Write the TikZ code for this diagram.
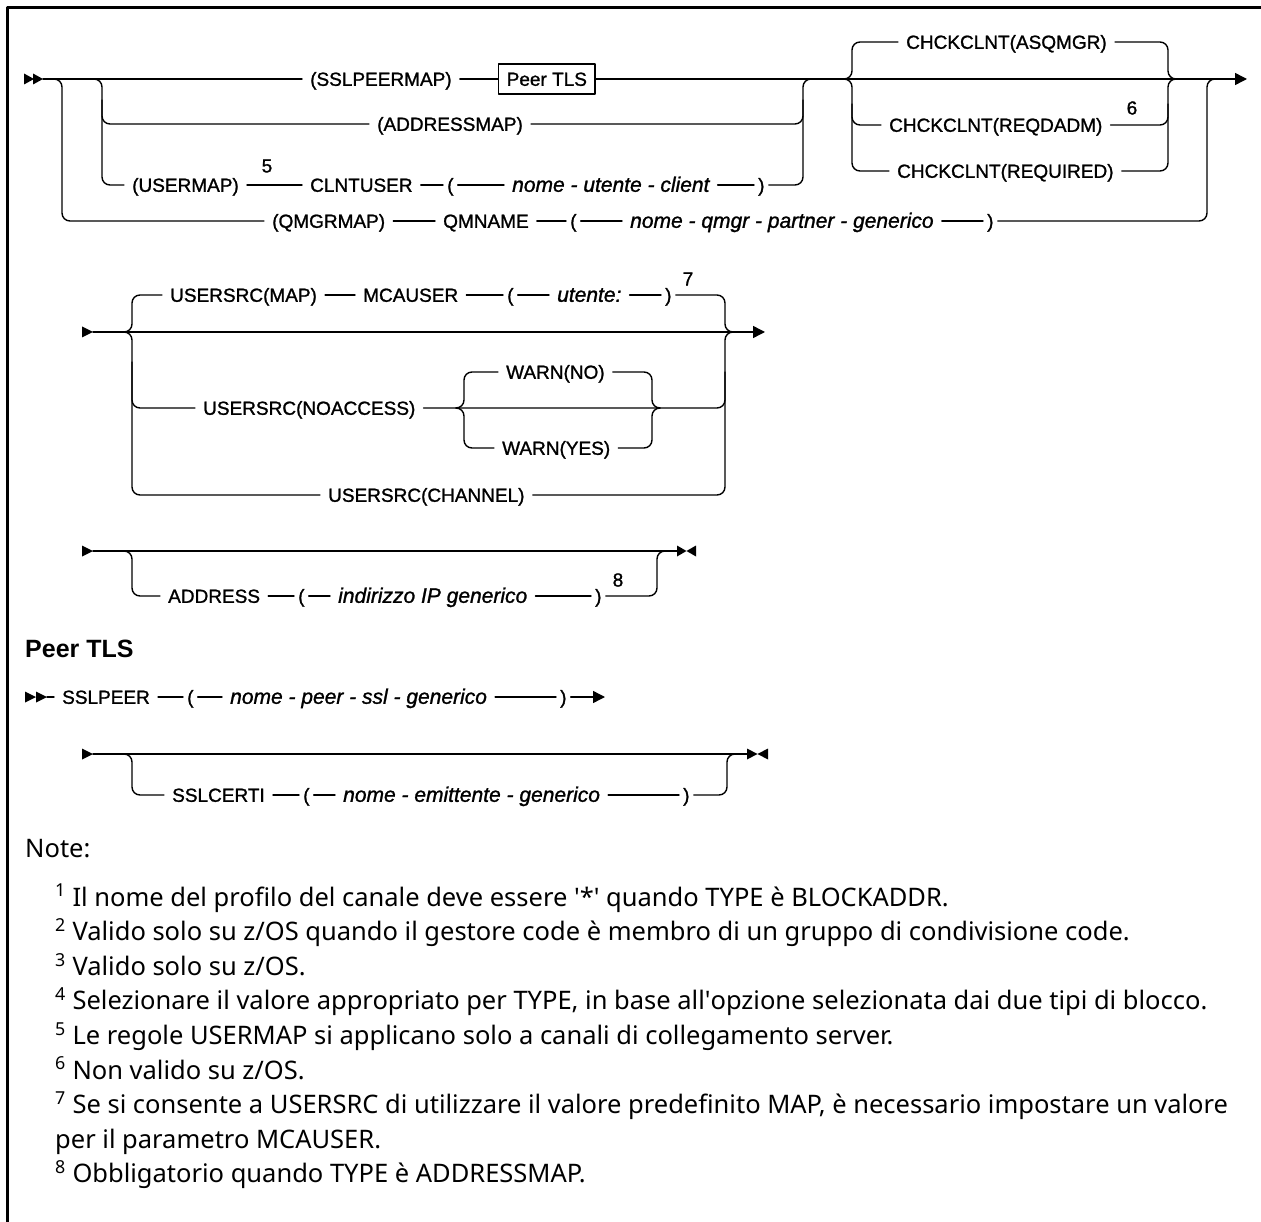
\documentclass[tikz,border=0pt]{standalone}
\usepackage{fontspec}
\usetikzlibrary{arrows.meta}
\newfontfamily\railfont{Liberation Sans}[FakeBold=1.2]
\newfontfamily\headfont{Liberation Sans}
\newfontfamily\notefont{Noto Sans}

\begin{document}
\begin{tikzpicture}[x=1pt,y=-1pt,line cap=round,line join=round,
  rail/.style={line width=1.4pt,rounded corners=8pt},
  railend/.style={-{Triangle[length=12pt,width=12pt]}},
  kw/.style={font=\railfont\fontsize{19}{22}\selectfont,anchor=west,inner xsep=8pt,inner ysep=0pt,text height=16.8pt,text depth=3.2pt},
  var/.style={kw,font=\railfont\fontsize{21}{24}\selectfont\itshape},
  paren/.style={kw,inner xsep=4pt},
  fnum/.style={font=\railfont\fontsize{19}{22}\selectfont,inner sep=0pt},
  note/.style={font=\notefont\fontsize{25.5}{30}\selectfont,anchor=base west,inner sep=0pt}]
  \useasboundingbox (0,0) rectangle (1261,1222);
  % Frame (top and left edges only)
  \draw[line width=2.6pt,line cap=butt] (7.5,1222) -- (7.5,7.5) -- (1261,7.5);

  % Part 1: map type, CHCKCLNT
  \fill (24,73.5) -- (34,79) -- (24,84.5) -- cycle;
  \fill (33,73.5) -- (43,79) -- (33,84.5) -- cycle;
  \coordinate (m1s) at (43,79);
  \coordinate (m1e) at (1247,79);
  \coordinate (q1) at (53,79);
  \coordinate (g1) at (92,79);
  \coordinate (g2) at (813,79);
  \coordinate (c1) at (843,79);
  \coordinate (c2) at (1177,79);
  \coordinate (q2) at (1215,79);

  \node[kw] (sslmap) at (302,79) {(SSLPEERMAP)};
  \node[kw,draw,line width=1.4pt,minimum height=30pt] (peerref) at (498,79) {Peer TLS};
  \node[kw] (addrmap) at (369,124) {(ADDRESSMAP)};
  \node[kw] (usermap) at (124,185) {(USERMAP)};
  \node[fnum] (fn5) at (267,166) {5};
  \node[kw] (clntuser) at (302,185) {CLNTUSER};
  \node[paren] (clpar) at (443,185) {(};
  \node[var] (clname) at (504,185) {nome - utente - client};
  \node[paren] (crpar) at (754,185) {)};
  \node[kw] (qmgrmap) at (264,221) {(QMGRMAP)};
  \node[kw] (qmname) at (435,221) {QMNAME};
  \node[paren] (qlpar) at (566,221) {(};
  \node[var] (qname) at (622,221) {nome - qmgr - partner - generico};
  \node[paren] (qrpar) at (983,221) {)};
  \node[kw] (asqmgr) at (898,42) {CHCKCLNT(ASQMGR)};
  \node[kw] (reqdadm) at (881,125) {CHCKCLNT(REQDADM)};
  \node[fnum] (fn6) at (1132,108) {6};
  \node[kw] (required) at (889,171) {CHCKCLNT(REQUIRED)};

  \draw[rail] (m1s) -- (sslmap.west);
  \draw[rail] (sslmap.east) -- (peerref.west);
  \draw[rail,railend] (peerref.east) -- (m1e);
  \draw[rail] (g1) -- ++(10,0) |- (usermap.west);
  \draw[rail] ([shift={(10,21)}]g1) |- (addrmap.west);
  \draw[rail] (usermap.east) -- (clntuser.west);
  \draw[rail] (clntuser.east) -- (clpar.west);
  \draw[rail] (clpar.east) -- (clname.west);
  \draw[rail] (clname.east) -- (crpar.west);
  \draw[rail] (crpar.east) -| ([xshift=-10pt]g2) -- (g2);
  \draw[rail] (addrmap.east) -| ([shift={(-10,21)}]g2);
  \draw[rail] (q1) -- ++(9,0) |- (qmgrmap.west);
  \draw[rail] (qmgrmap.east) -- (qmname.west);
  \draw[rail] (qmname.east) -- (qlpar.west);
  \draw[rail] (qlpar.east) -- (qname.west);
  \draw[rail] (qname.east) -- (qrpar.west);
  \draw[rail] (qrpar.east) -| ([xshift=-8pt]q2) -- (q2);
  \draw[rail] (c1) -- ++(9,0) |- (asqmgr.west);
  \draw[rail] (c1) -- ++(9,0) |- (required.west);
  \draw[rail] ([shift={(9,25)}]c1) |- (reqdadm.west);
  \draw[rail] (asqmgr.east) -| ([xshift=-9pt]c2) -- (c2);
  \draw[rail] (required.east) -| ([xshift=-9pt]c2) -- (c2);
  \draw[rail] (reqdadm.east) -| ([shift={(-9,25)}]c2);

  % Part 2: USERSRC
  \fill (82,326.5) -- (93,332) -- (82,337.5) -- cycle;
  \coordinate (m2s) at (93,332);
  \coordinate (m2e) at (765,332);
  \coordinate (s1) at (124,332);
  \coordinate (s2) at (733,332);
  \coordinate (w1) at (456,408);
  \coordinate (w2) at (660,408);

  \node[kw] (srcmap) at (162,295) {USERSRC(MAP)};
  \node[kw] (mcauser) at (355,295) {MCAUSER};
  \node[paren] (mlpar) at (503,295) {(};
  \node[var] (mname) at (549,295) {utente:};
  \node[paren] (mrpar) at (661,295) {)};
  \node[fnum] (fn7) at (688,279) {7};
  \node[kw] (srcnoacc) at (195,408) {USERSRC(NOACCESS)};
  \node[kw] (warnno) at (498,372) {WARN(NO)};
  \node[kw] (warnyes) at (494,448) {WARN(YES)};
  \node[kw] (srcchan) at (320,495) {USERSRC(CHANNEL)};

  \draw[rail,railend] (m2s) -- (m2e);
  \draw[rail] (s1) -- ++(8,0) |- (srcmap.west);
  \draw[rail] (s1) -- ++(8,0) |- (srcchan.west);
  \draw[rail] ([shift={(8,30)}]s1) |- (srcnoacc.west);
  \draw[rail] (srcmap.east) -- (mcauser.west);
  \draw[rail] (mcauser.east) -- (mlpar.west);
  \draw[rail] (mlpar.east) -- (mname.west);
  \draw[rail] (mname.east) -- (mrpar.west);
  \draw[rail] (mrpar.east) -| ([xshift=-8pt]s2) -- (s2);
  \draw[rail] (srcchan.east) -| ([xshift=-8pt]s2) -- (s2);
  \draw[rail] (srcnoacc.east) -- (w2) -| ([shift={(-8,40)}]s2);
  \draw[rail] (w1) -- ++(8,0) |- (warnno.west);
  \draw[rail] (w1) -- ++(8,0) |- (warnyes.west);
  \draw[rail] (warnno.east) -| ([xshift=-8pt]w2) -- (w2);
  \draw[rail] (warnyes.east) -| ([xshift=-8pt]w2) -- (w2);

  % Part 3: ADDRESS
  \fill (82,545.5) -- (93,551) -- (82,556.5) -- cycle;
  \coordinate (m3s) at (93,551);
  \coordinate (m3e) at (677,551);
  \coordinate (d1) at (124,551);
  \coordinate (d2) at (667,551);

  \node[kw] (address) at (160,596) {ADDRESS};
  \node[paren] (alpar) at (294,596) {(};
  \node[var] (aname) at (330,596) {indirizzo IP generico};
  \node[paren] (arpar) at (591,596) {)};
  \node[fnum] (fn8) at (618,580) {8};

  \draw[rail] (m3s) -- (m3e);
  \draw[rail] (d1) -- ++(8,0) |- (address.west);
  \draw[rail] (address.east) -- (alpar.west);
  \draw[rail] (alpar.east) -- (aname.west);
  \draw[rail] (aname.east) -- (arpar.west);
  \draw[rail] (arpar.east) -| ([xshift=-10pt]d2) -- (d2);
  \fill (677,545.5) -- (686.5,551) -- (677,556.5) -- cycle;
  \fill (696,545.5) -- (686.5,551) -- (696,556.5) -- cycle;

  % Peer TLS fragment
  \node[font=\headfont\bfseries\fontsize{25}{30}\selectfont,anchor=base west,inner sep=0pt] (peerhead) at (25,657) {Peer TLS};
  \fill (25,691.5) -- (36,697) -- (25,702.5) -- cycle;
  \fill (36,691.5) -- (47,697) -- (36,702.5) -- cycle;
  \coordinate (p1) at (47,697);
  \coordinate (p2) at (605,697);

  \node[kw] (sslpeer) at (54,697) {SSLPEER};
  \node[paren] (plpar) at (183,697) {(};
  \node[var] (pname) at (222,697) {nome - peer - ssl - generico};
  \node[paren] (prpar) at (556,697) {)};

  \draw[rail] (p1) -- (sslpeer.west);
  \draw[rail] (sslpeer.east) -- (plpar.west);
  \draw[rail] (plpar.east) -- (pname.west);
  \draw[rail] (pname.east) -- (prpar.west);
  \draw[rail,railend] (prpar.east) -- (p2);

  \fill (82,748.5) -- (93,754) -- (82,759.5) -- cycle;
  \coordinate (m4s) at (93,754);
  \coordinate (m4e) at (747,754);
  \coordinate (e1) at (124,754);
  \coordinate (e2) at (737,754);

  \node[kw] (sslcerti) at (164,795) {SSLCERTI};
  \node[paren] (elpar) at (299,795) {(};
  \node[var] (ename) at (335,795) {nome - emittente - generico};
  \node[paren] (erpar) at (679,795) {)};

  \draw[rail] (m4s) -- (m4e);
  \draw[rail] (e1) -- ++(8,0) |- (sslcerti.west);
  \draw[rail] (sslcerti.east) -- (elpar.west);
  \draw[rail] (elpar.east) -- (ename.west);
  \draw[rail] (ename.east) -- (erpar.west);
  \draw[rail] (erpar.east) -| ([xshift=-10pt]e2) -- (e2);
  \fill (747,748.5) -- (757.5,754) -- (747,759.5) -- cycle;
  \fill (768,748.5) -- (757.5,754) -- (768,759.5) -- cycle;

  % Notes
  \node[note] (notehead) at (25,857) {Note:};
  \node[note] (n1) at (55,906) {\textsuperscript{1} Il nome del profilo del canale deve essere \textquotesingle*\textquotesingle{} quando TYPE è BLOCKADDR.};
  \node[note] (n2) at (55,940.6) {\textsuperscript{2} Valido solo su z/OS quando il gestore code è membro di un gruppo di condivisione code.};
  \node[note] (n3) at (55,975.2) {\textsuperscript{3} Valido solo su z/OS.};
  \node[note] (n4) at (55,1009.8) {\textsuperscript{4} Selezionare il valore appropriato per TYPE, in base all\textquotesingle opzione selezionata dai due tipi di blocco.};
  \node[note] (n5) at (55,1044.4) {\textsuperscript{5} Le regole USERMAP si applicano solo a canali di collegamento server.};
  \node[note] (n6) at (55,1079) {\textsuperscript{6} Non valido su z/OS.};
  \node[note] (n7) at (55,1113.6) {\textsuperscript{7} Se si consente a USERSRC di utilizzare il valore predefinito MAP, è necessario impostare un valore};
  \node[note] (n7b) at (55,1148.2) {per il parametro MCAUSER.};
  \node[note] (n8) at (55,1182.8) {\textsuperscript{8} Obbligatorio quando TYPE è ADDRESSMAP.};
\end{tikzpicture}
\end{document}
